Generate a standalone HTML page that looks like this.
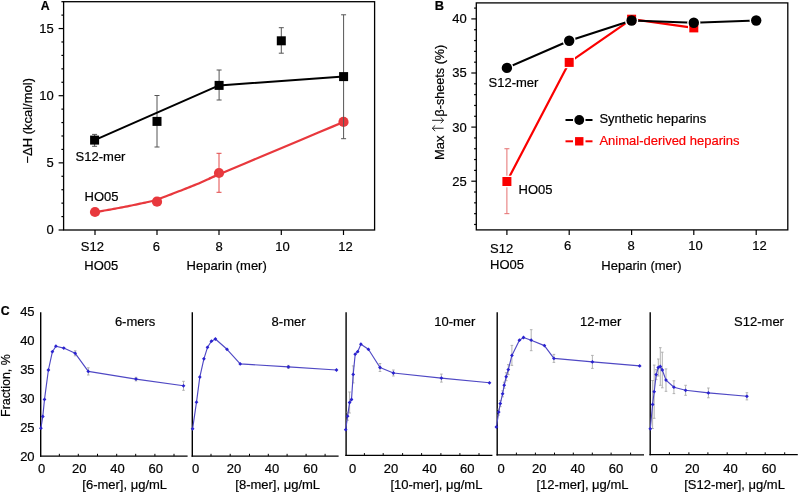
<!DOCTYPE html>
<html><head><meta charset="utf-8"><style>
html,body{margin:0;padding:0;background:#fff;}
body{width:800px;height:493px;overflow:hidden;}
svg{display:block;will-change:transform;font-family:"Liberation Sans",sans-serif;}
</style></head><body>
<svg width="800" height="493" viewBox="0 0 800 493">
<rect width="800" height="493" fill="#fff"/>
<rect x="63.6" y="1.7" width="311.0" height="228.3" fill="none" stroke="#000" stroke-width="1.3"/>
<line x1="58.60" y1="230.00" x2="63.60" y2="230.00" stroke="#000" stroke-width="1.2"/>
<line x1="61.40" y1="216.57" x2="63.60" y2="216.57" stroke="#000" stroke-width="1.2"/>
<line x1="61.40" y1="203.14" x2="63.60" y2="203.14" stroke="#000" stroke-width="1.2"/>
<line x1="61.40" y1="189.71" x2="63.60" y2="189.71" stroke="#000" stroke-width="1.2"/>
<line x1="61.40" y1="176.28" x2="63.60" y2="176.28" stroke="#000" stroke-width="1.2"/>
<line x1="58.60" y1="162.85" x2="63.60" y2="162.85" stroke="#000" stroke-width="1.2"/>
<line x1="61.40" y1="149.42" x2="63.60" y2="149.42" stroke="#000" stroke-width="1.2"/>
<line x1="61.40" y1="135.99" x2="63.60" y2="135.99" stroke="#000" stroke-width="1.2"/>
<line x1="61.40" y1="122.56" x2="63.60" y2="122.56" stroke="#000" stroke-width="1.2"/>
<line x1="61.40" y1="109.13" x2="63.60" y2="109.13" stroke="#000" stroke-width="1.2"/>
<line x1="58.60" y1="95.70" x2="63.60" y2="95.70" stroke="#000" stroke-width="1.2"/>
<line x1="61.40" y1="82.27" x2="63.60" y2="82.27" stroke="#000" stroke-width="1.2"/>
<line x1="61.40" y1="68.84" x2="63.60" y2="68.84" stroke="#000" stroke-width="1.2"/>
<line x1="61.40" y1="55.41" x2="63.60" y2="55.41" stroke="#000" stroke-width="1.2"/>
<line x1="61.40" y1="41.98" x2="63.60" y2="41.98" stroke="#000" stroke-width="1.2"/>
<line x1="58.60" y1="28.55" x2="63.60" y2="28.55" stroke="#000" stroke-width="1.2"/>
<line x1="61.40" y1="15.12" x2="63.60" y2="15.12" stroke="#000" stroke-width="1.2"/>
<line x1="61.40" y1="1.69" x2="63.60" y2="1.69" stroke="#000" stroke-width="1.2"/>
<text x="53.80" y="234.40" font-size="13.0" text-anchor="end" font-weight="normal" fill="#000" stroke="#000" stroke-width="0.2" >0</text>
<text x="53.80" y="167.25" font-size="13.0" text-anchor="end" font-weight="normal" fill="#000" stroke="#000" stroke-width="0.2" >5</text>
<text x="53.80" y="100.10" font-size="13.0" text-anchor="end" font-weight="normal" fill="#000" stroke="#000" stroke-width="0.2" >10</text>
<text x="53.80" y="32.95" font-size="13.0" text-anchor="end" font-weight="normal" fill="#000" stroke="#000" stroke-width="0.2" >15</text>
<line x1="95.00" y1="230.00" x2="95.00" y2="235.00" stroke="#000" stroke-width="1.2"/>
<line x1="157.00" y1="230.00" x2="157.00" y2="235.00" stroke="#000" stroke-width="1.2"/>
<line x1="219.00" y1="230.00" x2="219.00" y2="235.00" stroke="#000" stroke-width="1.2"/>
<line x1="281.30" y1="230.00" x2="281.30" y2="235.00" stroke="#000" stroke-width="1.2"/>
<line x1="343.50" y1="230.00" x2="343.50" y2="235.00" stroke="#000" stroke-width="1.2"/>
<text x="80.80" y="251.20" font-size="13.0" text-anchor="start" font-weight="normal" fill="#000" stroke="#000" stroke-width="0.2" >S12</text>
<text x="84.30" y="270.40" font-size="13.0" text-anchor="start" font-weight="normal" fill="#000" stroke="#000" stroke-width="0.2" >HO05</text>
<text x="156.40" y="251.20" font-size="13.0" text-anchor="middle" font-weight="normal" fill="#000" stroke="#000" stroke-width="0.2" >6</text>
<text x="219.00" y="251.20" font-size="13.0" text-anchor="middle" font-weight="normal" fill="#000" stroke="#000" stroke-width="0.2" >8</text>
<text x="282.50" y="251.20" font-size="13.0" text-anchor="middle" font-weight="normal" fill="#000" stroke="#000" stroke-width="0.2" >10</text>
<text x="345.60" y="251.20" font-size="13.0" text-anchor="middle" font-weight="normal" fill="#000" stroke="#000" stroke-width="0.2" >12</text>
<text x="186.60" y="270.40" font-size="13.0" text-anchor="start" font-weight="normal" fill="#000" stroke="#000" stroke-width="0.2" >Heparin (mer)</text>
<text x="40.80" y="9.60" font-size="12.3" text-anchor="start" font-weight="bold" fill="#000" stroke="#000" stroke-width="0.2" >A</text>
<text x="0.00" y="0.00" font-size="13.0" text-anchor="middle" font-weight="normal" fill="#000" stroke="#000" stroke-width="0.2" transform="translate(32.4,120.8) rotate(-90)">−ΔH (kcal/mol)</text>
<path d="M95.00,212.20 L95.33,212.14 L95.69,212.07 L96.13,211.99 L96.64,211.90 L97.27,211.79 L98.02,211.65 L98.92,211.49 L100.00,211.30 L101.30,211.07 L102.81,210.81 L104.50,210.52 L106.30,210.21 L108.17,209.88 L110.06,209.55 L111.92,209.22 L113.70,208.90 L115.40,208.59 L117.08,208.28 L118.76,207.97 L120.44,207.66 L122.14,207.34 L123.87,207.01 L125.65,206.66 L127.50,206.30 L129.46,205.91 L131.55,205.48 L133.72,205.03 L135.91,204.58 L138.06,204.12 L140.13,203.68 L142.06,203.27 L143.80,202.90 L145.34,202.57 L146.72,202.28 L147.97,202.02 L149.14,201.77 L150.24,201.52 L151.31,201.27 L152.39,201.00 L153.50,200.70 L154.55,200.40 L155.46,200.13 L156.31,199.86 L157.16,199.57 L158.08,199.25 L159.15,198.86 L160.43,198.38 L162.00,197.80 L163.90,197.09 L166.09,196.26 L168.49,195.34 L171.04,194.36 L173.65,193.34 L176.27,192.33 L178.81,191.34 L181.20,190.40 L183.48,189.51 L185.73,188.62 L187.96,187.75 L190.16,186.88 L192.34,186.01 L194.48,185.14 L196.61,184.27 L198.70,183.40 L200.83,182.49 L203.03,181.54 L205.23,180.56 L207.39,179.60 L209.46,178.67 L211.36,177.81 L213.06,177.05 L214.50,176.40 L214.81,176.24 L213.68,176.68 L211.86,177.42 L210.13,178.12 L209.24,178.48 L209.96,178.15 L213.06,176.83 L219.30,174.20 L229.96,169.71 L244.87,163.44 L262.59,155.99 L281.70,147.96 L300.77,139.95 L318.38,132.55 L333.10,126.37 L343.50,122.00" fill="none" stroke="#e8383d" stroke-width="2.2" stroke-linejoin="round" />
<circle cx="95.00" cy="212.00" r="5.1" fill="#e8383d"/>
<circle cx="157.00" cy="201.70" r="5.1" fill="#e8383d"/>
<circle cx="219.00" cy="173.00" r="5.1" fill="#e8383d"/>
<circle cx="343.50" cy="121.90" r="5.1" fill="#e8383d"/>
<line x1="94.60" y1="134.40" x2="94.60" y2="146.30" stroke="#555" stroke-width="1"/>
<line x1="92.10" y1="134.40" x2="97.10" y2="134.40" stroke="#555" stroke-width="1"/>
<line x1="92.10" y1="146.30" x2="97.10" y2="146.30" stroke="#555" stroke-width="1"/>
<line x1="157.00" y1="95.50" x2="157.00" y2="147.00" stroke="#555" stroke-width="1"/>
<line x1="154.50" y1="95.50" x2="159.50" y2="95.50" stroke="#555" stroke-width="1"/>
<line x1="154.50" y1="147.00" x2="159.50" y2="147.00" stroke="#555" stroke-width="1"/>
<line x1="219.10" y1="70.00" x2="219.10" y2="100.00" stroke="#555" stroke-width="1"/>
<line x1="216.60" y1="70.00" x2="221.60" y2="70.00" stroke="#555" stroke-width="1"/>
<line x1="216.60" y1="100.00" x2="221.60" y2="100.00" stroke="#555" stroke-width="1"/>
<line x1="281.30" y1="27.70" x2="281.30" y2="53.20" stroke="#555" stroke-width="1"/>
<line x1="278.80" y1="27.70" x2="283.80" y2="27.70" stroke="#555" stroke-width="1"/>
<line x1="278.80" y1="53.20" x2="283.80" y2="53.20" stroke="#555" stroke-width="1"/>
<line x1="343.60" y1="14.80" x2="343.60" y2="138.70" stroke="#555" stroke-width="1"/>
<line x1="341.10" y1="14.80" x2="346.10" y2="14.80" stroke="#555" stroke-width="1"/>
<line x1="341.10" y1="138.70" x2="346.10" y2="138.70" stroke="#555" stroke-width="1"/>
<line x1="219.00" y1="153.30" x2="219.00" y2="192.30" stroke="#e24848" stroke-width="1"/>
<line x1="216.50" y1="153.30" x2="221.50" y2="153.30" stroke="#e24848" stroke-width="1"/>
<line x1="216.50" y1="192.30" x2="221.50" y2="192.30" stroke="#e24848" stroke-width="1"/>
<path d="M94.60,140.10 L219.10,85.40 L343.60,76.60" fill="none" stroke="#000" stroke-width="2" stroke-linejoin="round" />
<rect x="90.10" y="135.60" width="9" height="9" fill="#000"/>
<rect x="152.50" y="116.90" width="9" height="9" fill="#000"/>
<rect x="214.60" y="80.90" width="9" height="9" fill="#000"/>
<rect x="276.80" y="36.30" width="9" height="9" fill="#000"/>
<rect x="339.10" y="72.10" width="9" height="9" fill="#000"/>
<text x="75.60" y="160.70" font-size="13.0" text-anchor="start" font-weight="normal" fill="#000" stroke="#000" stroke-width="0.2" >S12-mer</text>
<text x="84.60" y="201.40" font-size="13.0" text-anchor="start" font-weight="normal" fill="#000" stroke="#000" stroke-width="0.2" >HO05</text>
<rect x="476.3" y="2.9" width="311.49999999999994" height="227.0" fill="none" stroke="#000" stroke-width="1.3"/>
<line x1="474.10" y1="224.48" x2="476.30" y2="224.48" stroke="#000" stroke-width="1.2"/>
<line x1="474.10" y1="213.66" x2="476.30" y2="213.66" stroke="#000" stroke-width="1.2"/>
<line x1="474.10" y1="202.84" x2="476.30" y2="202.84" stroke="#000" stroke-width="1.2"/>
<line x1="474.10" y1="192.02" x2="476.30" y2="192.02" stroke="#000" stroke-width="1.2"/>
<line x1="471.30" y1="181.20" x2="476.30" y2="181.20" stroke="#000" stroke-width="1.2"/>
<line x1="474.10" y1="170.38" x2="476.30" y2="170.38" stroke="#000" stroke-width="1.2"/>
<line x1="474.10" y1="159.56" x2="476.30" y2="159.56" stroke="#000" stroke-width="1.2"/>
<line x1="474.10" y1="148.74" x2="476.30" y2="148.74" stroke="#000" stroke-width="1.2"/>
<line x1="474.10" y1="137.92" x2="476.30" y2="137.92" stroke="#000" stroke-width="1.2"/>
<line x1="471.30" y1="127.10" x2="476.30" y2="127.10" stroke="#000" stroke-width="1.2"/>
<line x1="474.10" y1="116.28" x2="476.30" y2="116.28" stroke="#000" stroke-width="1.2"/>
<line x1="474.10" y1="105.46" x2="476.30" y2="105.46" stroke="#000" stroke-width="1.2"/>
<line x1="474.10" y1="94.64" x2="476.30" y2="94.64" stroke="#000" stroke-width="1.2"/>
<line x1="474.10" y1="83.82" x2="476.30" y2="83.82" stroke="#000" stroke-width="1.2"/>
<line x1="471.30" y1="73.00" x2="476.30" y2="73.00" stroke="#000" stroke-width="1.2"/>
<line x1="474.10" y1="62.18" x2="476.30" y2="62.18" stroke="#000" stroke-width="1.2"/>
<line x1="474.10" y1="51.36" x2="476.30" y2="51.36" stroke="#000" stroke-width="1.2"/>
<line x1="474.10" y1="40.54" x2="476.30" y2="40.54" stroke="#000" stroke-width="1.2"/>
<line x1="474.10" y1="29.72" x2="476.30" y2="29.72" stroke="#000" stroke-width="1.2"/>
<line x1="471.30" y1="18.90" x2="476.30" y2="18.90" stroke="#000" stroke-width="1.2"/>
<line x1="474.10" y1="8.08" x2="476.30" y2="8.08" stroke="#000" stroke-width="1.2"/>
<text x="466.80" y="185.60" font-size="13.0" text-anchor="end" font-weight="normal" fill="#000" stroke="#000" stroke-width="0.2" >25</text>
<text x="466.80" y="131.50" font-size="13.0" text-anchor="end" font-weight="normal" fill="#000" stroke="#000" stroke-width="0.2" >30</text>
<text x="466.80" y="77.40" font-size="13.0" text-anchor="end" font-weight="normal" fill="#000" stroke="#000" stroke-width="0.2" >35</text>
<text x="466.80" y="23.30" font-size="13.0" text-anchor="end" font-weight="normal" fill="#000" stroke="#000" stroke-width="0.2" >40</text>
<line x1="506.90" y1="229.90" x2="506.90" y2="234.90" stroke="#000" stroke-width="1.2"/>
<line x1="569.20" y1="229.90" x2="569.20" y2="234.90" stroke="#000" stroke-width="1.2"/>
<line x1="631.60" y1="229.90" x2="631.60" y2="234.90" stroke="#000" stroke-width="1.2"/>
<line x1="693.80" y1="229.90" x2="693.80" y2="234.90" stroke="#000" stroke-width="1.2"/>
<line x1="756.20" y1="229.90" x2="756.20" y2="234.90" stroke="#000" stroke-width="1.2"/>
<text x="490.10" y="253.40" font-size="13.0" text-anchor="start" font-weight="normal" fill="#000" stroke="#000" stroke-width="0.2" >S12</text>
<text x="490.10" y="268.70" font-size="13.0" text-anchor="start" font-weight="normal" fill="#000" stroke="#000" stroke-width="0.2" >HO05</text>
<text x="567.60" y="249.80" font-size="13.0" text-anchor="middle" font-weight="normal" fill="#000" stroke="#000" stroke-width="0.2" >6</text>
<text x="631.20" y="249.80" font-size="13.0" text-anchor="middle" font-weight="normal" fill="#000" stroke="#000" stroke-width="0.2" >8</text>
<text x="695.40" y="249.80" font-size="13.0" text-anchor="middle" font-weight="normal" fill="#000" stroke="#000" stroke-width="0.2" >10</text>
<text x="759.60" y="249.80" font-size="13.0" text-anchor="middle" font-weight="normal" fill="#000" stroke="#000" stroke-width="0.2" >12</text>
<text x="601.30" y="270.30" font-size="13.0" text-anchor="start" font-weight="normal" fill="#000" stroke="#000" stroke-width="0.2" >Heparin (mer)</text>
<text x="434.70" y="9.90" font-size="12.8" text-anchor="start" font-weight="bold" fill="#000" stroke="#000" stroke-width="0.2" >B</text>
<text x="0.00" y="0.00" font-size="13.0" text-anchor="start" font-weight="normal" fill="#000" stroke="#000" stroke-width="0.2" transform="translate(443.9,160.0) rotate(-90)">Max</text>
<text x="0.00" y="0.00" font-size="12.65" text-anchor="start" font-weight="normal" fill="#000" stroke="#000" stroke-width="0.2" transform="translate(443.9,116.6) rotate(-90)">β-sheets (%)</text>
<path d="M443.6,128.25 L432.4,128.25 M435.2,125.4 L432.3,128.25 L435.2,131.1" fill="none" stroke="#222" stroke-width="1.0"/>
<path d="M432.1,120.3 L443.6,120.3 M440.7,117.45 L443.6,120.3 L440.7,123.15" fill="none" stroke="#222" stroke-width="1.0"/>
<line x1="506.90" y1="148.74" x2="506.90" y2="213.66" stroke="#e57070" stroke-width="1"/>
<line x1="504.40" y1="148.74" x2="509.40" y2="148.74" stroke="#e57070" stroke-width="1"/>
<line x1="504.40" y1="213.66" x2="509.40" y2="213.66" stroke="#e57070" stroke-width="1"/>
<path d="M506.90,181.50 L569.20,62.40 L631.60,19.20 L693.80,27.90" fill="none" stroke="#fa0000" stroke-width="2.2" stroke-linejoin="round" />
<path d="M506.90,67.90 L569.20,40.70 L631.60,20.50 L693.80,22.75 L756.20,20.50" fill="none" stroke="#000" stroke-width="2.2" stroke-linejoin="round" />
<rect x="501.10" y="175.70" width="11.6" height="11.6" fill="#fff"/>
<rect x="563.40" y="56.60" width="11.6" height="11.6" fill="#fff"/>
<rect x="625.80" y="13.40" width="11.6" height="11.6" fill="#fff"/>
<rect x="688.00" y="22.10" width="11.6" height="11.6" fill="#fff"/>
<circle cx="506.90" cy="67.90" r="6.6" fill="#fff"/>
<circle cx="569.20" cy="40.70" r="6.6" fill="#fff"/>
<circle cx="631.60" cy="20.50" r="6.6" fill="#fff"/>
<circle cx="693.80" cy="22.75" r="6.6" fill="#fff"/>
<circle cx="756.20" cy="20.50" r="6.6" fill="#fff"/>
<rect x="502.40" y="177.00" width="9" height="9" fill="#fa0000"/>
<rect x="564.70" y="57.90" width="9" height="9" fill="#fa0000"/>
<rect x="627.10" y="14.70" width="9" height="9" fill="#fa0000"/>
<rect x="689.30" y="23.40" width="9" height="9" fill="#fa0000"/>
<circle cx="506.90" cy="67.90" r="5.2" fill="#000"/>
<circle cx="569.20" cy="40.70" r="5.2" fill="#000"/>
<circle cx="631.60" cy="20.50" r="5.2" fill="#000"/>
<circle cx="693.80" cy="22.75" r="5.2" fill="#000"/>
<circle cx="756.20" cy="20.50" r="5.2" fill="#000"/>
<text x="488.50" y="86.60" font-size="13.0" text-anchor="start" font-weight="normal" fill="#000" stroke="#000" stroke-width="0.2" >S12-mer</text>
<text x="518.60" y="193.80" font-size="13.0" text-anchor="start" font-weight="normal" fill="#000" stroke="#000" stroke-width="0.2" >HO05</text>
<line x1="565.50" y1="120.00" x2="573.00" y2="120.00" stroke="#000" stroke-width="2"/>
<line x1="585.50" y1="120.00" x2="592.50" y2="120.00" stroke="#000" stroke-width="2"/>
<circle cx="579.25" cy="120.00" r="4.9" fill="#000"/>
<text x="599.40" y="123.00" font-size="13.0" text-anchor="start" font-weight="normal" fill="#000" stroke="#000" stroke-width="0.2" >Synthetic heparins</text>
<line x1="565.50" y1="141.30" x2="573.00" y2="141.30" stroke="#fa0000" stroke-width="2"/>
<line x1="585.50" y1="141.30" x2="592.50" y2="141.30" stroke="#fa0000" stroke-width="2"/>
<rect x="575.05" y="137.10" width="8.4" height="8.4" fill="#fa0000"/>
<text x="599.40" y="145.30" font-size="13.0" text-anchor="start" font-weight="normal" fill="#fa0000" stroke="#fa0000" stroke-width="0.2" >Animal-derived heparins</text>
<text x="0.80" y="314.80" font-size="12.3" text-anchor="start" font-weight="bold" fill="#000" stroke="#000" stroke-width="0.2" >C</text>
<text x="0.00" y="0.00" font-size="12.4" text-anchor="middle" font-weight="normal" fill="#000" stroke="#000" stroke-width="0.2" transform="translate(10.3,385.6) rotate(-90)">Fraction, %</text>
<text x="34.60" y="460.70" font-size="13.0" text-anchor="end" font-weight="normal" fill="#000" stroke="#000" stroke-width="0.2" >20</text>
<text x="34.60" y="431.85" font-size="13.0" text-anchor="end" font-weight="normal" fill="#000" stroke="#000" stroke-width="0.2" >25</text>
<text x="34.60" y="403.00" font-size="13.0" text-anchor="end" font-weight="normal" fill="#000" stroke="#000" stroke-width="0.2" >30</text>
<text x="34.60" y="374.15" font-size="13.0" text-anchor="end" font-weight="normal" fill="#000" stroke="#000" stroke-width="0.2" >35</text>
<text x="34.60" y="345.30" font-size="13.0" text-anchor="end" font-weight="normal" fill="#000" stroke="#000" stroke-width="0.2" >40</text>
<text x="34.60" y="316.45" font-size="13.0" text-anchor="end" font-weight="normal" fill="#000" stroke="#000" stroke-width="0.2" >45</text>
<line x1="40.70" y1="312.20" x2="40.70" y2="456.70" stroke="#000" stroke-width="1.4"/>
<line x1="40.00" y1="456.10" x2="187.60" y2="456.10" stroke="#000" stroke-width="1.4"/>
<line x1="59.35" y1="456.10" x2="59.35" y2="453.80" stroke="#000" stroke-width="1"/>
<line x1="78.30" y1="456.10" x2="78.30" y2="453.80" stroke="#000" stroke-width="1"/>
<line x1="97.50" y1="456.10" x2="97.50" y2="453.80" stroke="#000" stroke-width="1"/>
<line x1="116.70" y1="456.10" x2="116.70" y2="453.80" stroke="#000" stroke-width="1"/>
<line x1="135.70" y1="456.10" x2="135.70" y2="453.80" stroke="#000" stroke-width="1"/>
<line x1="154.90" y1="456.10" x2="154.90" y2="453.80" stroke="#000" stroke-width="1"/>
<line x1="174.00" y1="456.10" x2="174.00" y2="453.80" stroke="#000" stroke-width="1"/>
<text x="41.60" y="472.80" font-size="13.0" text-anchor="middle" font-weight="normal" fill="#000" stroke="#000" stroke-width="0.2" >0</text>
<text x="79.30" y="472.80" font-size="13.0" text-anchor="middle" font-weight="normal" fill="#000" stroke="#000" stroke-width="0.2" >20</text>
<text x="117.50" y="472.80" font-size="13.0" text-anchor="middle" font-weight="normal" fill="#000" stroke="#000" stroke-width="0.2" >40</text>
<text x="155.70" y="472.80" font-size="13.0" text-anchor="middle" font-weight="normal" fill="#000" stroke="#000" stroke-width="0.2" >60</text>
<text x="114.90" y="326.00" font-size="13.0" text-anchor="start" font-weight="normal" fill="#000" stroke="#000" stroke-width="0.2" >6-mers</text>
<text x="82.30" y="488.80" font-size="13.0" text-anchor="start" font-weight="normal" fill="#000" stroke="#000" stroke-width="0.2" >[6-mer], μg/mL</text>
<line x1="75.20" y1="350.80" x2="75.20" y2="355.80" stroke="#aaa" stroke-width="0.9"/>
<line x1="73.90" y1="350.80" x2="76.50" y2="350.80" stroke="#aaa" stroke-width="0.9"/>
<line x1="73.90" y1="355.80" x2="76.50" y2="355.80" stroke="#aaa" stroke-width="0.9"/>
<line x1="88.30" y1="367.80" x2="88.30" y2="375.00" stroke="#aaa" stroke-width="0.9"/>
<line x1="87.00" y1="367.80" x2="89.60" y2="367.80" stroke="#aaa" stroke-width="0.9"/>
<line x1="87.00" y1="375.00" x2="89.60" y2="375.00" stroke="#aaa" stroke-width="0.9"/>
<line x1="136.00" y1="377.30" x2="136.00" y2="380.90" stroke="#aaa" stroke-width="0.9"/>
<line x1="134.70" y1="377.30" x2="137.30" y2="377.30" stroke="#aaa" stroke-width="0.9"/>
<line x1="134.70" y1="380.90" x2="137.30" y2="380.90" stroke="#aaa" stroke-width="0.9"/>
<line x1="183.50" y1="381.30" x2="183.50" y2="390.30" stroke="#aaa" stroke-width="0.9"/>
<line x1="182.20" y1="381.30" x2="184.80" y2="381.30" stroke="#aaa" stroke-width="0.9"/>
<line x1="182.20" y1="390.30" x2="184.80" y2="390.30" stroke="#aaa" stroke-width="0.9"/>
<path d="M40.90,428.20 L42.80,416.50 L44.50,399.40 L48.40,370.00 L52.40,351.70 L55.90,346.20 L63.80,348.10 L75.20,353.30 L88.30,371.40 L136.00,379.10 L183.50,385.80" fill="none" stroke="#4f48c4" stroke-width="1.15" stroke-linejoin="round" />
<path d="M40.90,426.30 L42.80,428.20 L40.90,430.10 L39.00,428.20 Z" fill="#2a22d0"/>
<path d="M42.80,414.60 L44.70,416.50 L42.80,418.40 L40.90,416.50 Z" fill="#2a22d0"/>
<path d="M44.50,397.50 L46.40,399.40 L44.50,401.30 L42.60,399.40 Z" fill="#2a22d0"/>
<path d="M48.40,368.10 L50.30,370.00 L48.40,371.90 L46.50,370.00 Z" fill="#2a22d0"/>
<path d="M52.40,349.80 L54.30,351.70 L52.40,353.60 L50.50,351.70 Z" fill="#2a22d0"/>
<path d="M55.90,344.30 L57.80,346.20 L55.90,348.10 L54.00,346.20 Z" fill="#2a22d0"/>
<path d="M63.80,346.20 L65.70,348.10 L63.80,350.00 L61.90,348.10 Z" fill="#2a22d0"/>
<path d="M75.20,351.40 L77.10,353.30 L75.20,355.20 L73.30,353.30 Z" fill="#2a22d0"/>
<path d="M88.30,369.50 L90.20,371.40 L88.30,373.30 L86.40,371.40 Z" fill="#2a22d0"/>
<path d="M136.00,377.20 L137.90,379.10 L136.00,381.00 L134.10,379.10 Z" fill="#2a22d0"/>
<path d="M183.50,383.90 L185.40,385.80 L183.50,387.70 L181.60,385.80 Z" fill="#2a22d0"/>
<line x1="192.30" y1="312.20" x2="192.30" y2="456.70" stroke="#000" stroke-width="1.4"/>
<line x1="191.60" y1="456.10" x2="338.60" y2="456.10" stroke="#000" stroke-width="1.4"/>
<line x1="211.00" y1="456.10" x2="211.00" y2="453.80" stroke="#000" stroke-width="1"/>
<line x1="230.20" y1="456.10" x2="230.20" y2="453.80" stroke="#000" stroke-width="1"/>
<line x1="249.50" y1="456.10" x2="249.50" y2="453.80" stroke="#000" stroke-width="1"/>
<line x1="268.30" y1="456.10" x2="268.30" y2="453.80" stroke="#000" stroke-width="1"/>
<line x1="287.10" y1="456.10" x2="287.10" y2="453.80" stroke="#000" stroke-width="1"/>
<line x1="306.10" y1="456.10" x2="306.10" y2="453.80" stroke="#000" stroke-width="1"/>
<line x1="325.10" y1="456.10" x2="325.10" y2="453.80" stroke="#000" stroke-width="1"/>
<text x="195.50" y="472.80" font-size="13.0" text-anchor="middle" font-weight="normal" fill="#000" stroke="#000" stroke-width="0.2" >0</text>
<text x="233.90" y="472.80" font-size="13.0" text-anchor="middle" font-weight="normal" fill="#000" stroke="#000" stroke-width="0.2" >20</text>
<text x="272.10" y="472.80" font-size="13.0" text-anchor="middle" font-weight="normal" fill="#000" stroke="#000" stroke-width="0.2" >40</text>
<text x="310.60" y="472.80" font-size="13.0" text-anchor="middle" font-weight="normal" fill="#000" stroke="#000" stroke-width="0.2" >60</text>
<text x="271.60" y="326.00" font-size="13.0" text-anchor="start" font-weight="normal" fill="#000" stroke="#000" stroke-width="0.2" >8-mer</text>
<text x="235.30" y="488.80" font-size="13.0" text-anchor="start" font-weight="normal" fill="#000" stroke="#000" stroke-width="0.2" >[8-mer], μg/mL</text>
<line x1="288.40" y1="365.40" x2="288.40" y2="368.40" stroke="#aaa" stroke-width="0.9"/>
<line x1="287.10" y1="365.40" x2="289.70" y2="365.40" stroke="#aaa" stroke-width="0.9"/>
<line x1="287.10" y1="368.40" x2="289.70" y2="368.40" stroke="#aaa" stroke-width="0.9"/>
<path d="M192.60,428.80 L196.50,402.20 L199.80,377.10 L203.90,358.80 L207.50,347.30 L211.40,341.20 L215.40,339.00 L227.00,349.30 L240.20,363.90 L288.40,366.90 L336.50,370.00" fill="none" stroke="#4f48c4" stroke-width="1.15" stroke-linejoin="round" />
<path d="M192.60,426.90 L194.50,428.80 L192.60,430.70 L190.70,428.80 Z" fill="#2a22d0"/>
<path d="M196.50,400.30 L198.40,402.20 L196.50,404.10 L194.60,402.20 Z" fill="#2a22d0"/>
<path d="M199.80,375.20 L201.70,377.10 L199.80,379.00 L197.90,377.10 Z" fill="#2a22d0"/>
<path d="M203.90,356.90 L205.80,358.80 L203.90,360.70 L202.00,358.80 Z" fill="#2a22d0"/>
<path d="M207.50,345.40 L209.40,347.30 L207.50,349.20 L205.60,347.30 Z" fill="#2a22d0"/>
<path d="M211.40,339.30 L213.30,341.20 L211.40,343.10 L209.50,341.20 Z" fill="#2a22d0"/>
<path d="M215.40,337.10 L217.30,339.00 L215.40,340.90 L213.50,339.00 Z" fill="#2a22d0"/>
<path d="M227.00,347.40 L228.90,349.30 L227.00,351.20 L225.10,349.30 Z" fill="#2a22d0"/>
<path d="M240.20,362.00 L242.10,363.90 L240.20,365.80 L238.30,363.90 Z" fill="#2a22d0"/>
<path d="M288.40,365.00 L290.30,366.90 L288.40,368.80 L286.50,366.90 Z" fill="#2a22d0"/>
<path d="M336.50,368.10 L338.40,370.00 L336.50,371.90 L334.60,370.00 Z" fill="#2a22d0"/>
<line x1="346.10" y1="312.20" x2="346.10" y2="456.00" stroke="#000" stroke-width="1.4"/>
<line x1="345.40" y1="455.40" x2="492.40" y2="455.40" stroke="#000" stroke-width="1.4"/>
<line x1="364.40" y1="455.40" x2="364.40" y2="453.10" stroke="#000" stroke-width="1"/>
<line x1="383.20" y1="455.40" x2="383.20" y2="453.10" stroke="#000" stroke-width="1"/>
<line x1="402.60" y1="455.40" x2="402.60" y2="453.10" stroke="#000" stroke-width="1"/>
<line x1="421.60" y1="455.40" x2="421.60" y2="453.10" stroke="#000" stroke-width="1"/>
<line x1="440.90" y1="455.40" x2="440.90" y2="453.10" stroke="#000" stroke-width="1"/>
<line x1="459.90" y1="455.40" x2="459.90" y2="453.10" stroke="#000" stroke-width="1"/>
<line x1="479.00" y1="455.40" x2="479.00" y2="453.10" stroke="#000" stroke-width="1"/>
<text x="352.60" y="472.80" font-size="13.0" text-anchor="middle" font-weight="normal" fill="#000" stroke="#000" stroke-width="0.2" >0</text>
<text x="390.90" y="472.80" font-size="13.0" text-anchor="middle" font-weight="normal" fill="#000" stroke="#000" stroke-width="0.2" >20</text>
<text x="429.40" y="472.80" font-size="13.0" text-anchor="middle" font-weight="normal" fill="#000" stroke="#000" stroke-width="0.2" >40</text>
<text x="467.20" y="472.80" font-size="13.0" text-anchor="middle" font-weight="normal" fill="#000" stroke="#000" stroke-width="0.2" >60</text>
<text x="434.20" y="326.00" font-size="13.0" text-anchor="start" font-weight="normal" fill="#000" stroke="#000" stroke-width="0.2" >10-mer</text>
<text x="390.40" y="488.80" font-size="13.0" text-anchor="start" font-weight="normal" fill="#000" stroke="#000" stroke-width="0.2" >[10-mer], μg/mL</text>
<line x1="347.60" y1="412.20" x2="347.60" y2="420.20" stroke="#aaa" stroke-width="0.9"/>
<line x1="346.30" y1="412.20" x2="348.90" y2="412.20" stroke="#aaa" stroke-width="0.9"/>
<line x1="346.30" y1="420.20" x2="348.90" y2="420.20" stroke="#aaa" stroke-width="0.9"/>
<line x1="349.60" y1="392.00" x2="349.60" y2="413.00" stroke="#aaa" stroke-width="0.9"/>
<line x1="348.30" y1="392.00" x2="350.90" y2="392.00" stroke="#aaa" stroke-width="0.9"/>
<line x1="348.30" y1="413.00" x2="350.90" y2="413.00" stroke="#aaa" stroke-width="0.9"/>
<line x1="353.20" y1="365.90" x2="353.20" y2="382.90" stroke="#aaa" stroke-width="0.9"/>
<line x1="351.90" y1="365.90" x2="354.50" y2="365.90" stroke="#aaa" stroke-width="0.9"/>
<line x1="351.90" y1="382.90" x2="354.50" y2="382.90" stroke="#aaa" stroke-width="0.9"/>
<line x1="380.00" y1="363.50" x2="380.00" y2="371.50" stroke="#aaa" stroke-width="0.9"/>
<line x1="378.70" y1="363.50" x2="381.30" y2="363.50" stroke="#aaa" stroke-width="0.9"/>
<line x1="378.70" y1="371.50" x2="381.30" y2="371.50" stroke="#aaa" stroke-width="0.9"/>
<line x1="393.40" y1="370.00" x2="393.40" y2="376.00" stroke="#aaa" stroke-width="0.9"/>
<line x1="392.10" y1="370.00" x2="394.70" y2="370.00" stroke="#aaa" stroke-width="0.9"/>
<line x1="392.10" y1="376.00" x2="394.70" y2="376.00" stroke="#aaa" stroke-width="0.9"/>
<line x1="441.40" y1="374.10" x2="441.40" y2="382.10" stroke="#aaa" stroke-width="0.9"/>
<line x1="440.10" y1="374.10" x2="442.70" y2="374.10" stroke="#aaa" stroke-width="0.9"/>
<line x1="440.10" y1="382.10" x2="442.70" y2="382.10" stroke="#aaa" stroke-width="0.9"/>
<path d="M345.70,429.70 L347.60,416.20 L349.60,402.50 L351.50,399.50 L353.20,374.40 L355.20,354.20 L357.70,351.70 L360.90,344.20 L368.40,349.30 L380.00,367.50 L393.40,373.00 L441.40,378.10 L489.50,382.80" fill="none" stroke="#4f48c4" stroke-width="1.15" stroke-linejoin="round" />
<path d="M345.70,427.80 L347.60,429.70 L345.70,431.60 L343.80,429.70 Z" fill="#2a22d0"/>
<path d="M347.60,414.30 L349.50,416.20 L347.60,418.10 L345.70,416.20 Z" fill="#2a22d0"/>
<path d="M349.60,400.60 L351.50,402.50 L349.60,404.40 L347.70,402.50 Z" fill="#2a22d0"/>
<path d="M351.50,397.60 L353.40,399.50 L351.50,401.40 L349.60,399.50 Z" fill="#2a22d0"/>
<path d="M353.20,372.50 L355.10,374.40 L353.20,376.30 L351.30,374.40 Z" fill="#2a22d0"/>
<path d="M355.20,352.30 L357.10,354.20 L355.20,356.10 L353.30,354.20 Z" fill="#2a22d0"/>
<path d="M357.70,349.80 L359.60,351.70 L357.70,353.60 L355.80,351.70 Z" fill="#2a22d0"/>
<path d="M360.90,342.30 L362.80,344.20 L360.90,346.10 L359.00,344.20 Z" fill="#2a22d0"/>
<path d="M368.40,347.40 L370.30,349.30 L368.40,351.20 L366.50,349.30 Z" fill="#2a22d0"/>
<path d="M380.00,365.60 L381.90,367.50 L380.00,369.40 L378.10,367.50 Z" fill="#2a22d0"/>
<path d="M393.40,371.10 L395.30,373.00 L393.40,374.90 L391.50,373.00 Z" fill="#2a22d0"/>
<path d="M441.40,376.20 L443.30,378.10 L441.40,380.00 L439.50,378.10 Z" fill="#2a22d0"/>
<path d="M489.50,380.90 L491.40,382.80 L489.50,384.70 L487.60,382.80 Z" fill="#2a22d0"/>
<line x1="497.20" y1="312.20" x2="497.20" y2="455.50" stroke="#000" stroke-width="1.4"/>
<line x1="496.50" y1="454.90" x2="644.00" y2="454.90" stroke="#000" stroke-width="1.4"/>
<line x1="516.40" y1="454.90" x2="516.40" y2="452.60" stroke="#000" stroke-width="1"/>
<line x1="535.40" y1="454.90" x2="535.40" y2="452.60" stroke="#000" stroke-width="1"/>
<line x1="554.50" y1="454.90" x2="554.50" y2="452.60" stroke="#000" stroke-width="1"/>
<line x1="573.30" y1="454.90" x2="573.30" y2="452.60" stroke="#000" stroke-width="1"/>
<line x1="592.30" y1="454.90" x2="592.30" y2="452.60" stroke="#000" stroke-width="1"/>
<line x1="611.10" y1="454.90" x2="611.10" y2="452.60" stroke="#000" stroke-width="1"/>
<line x1="630.60" y1="454.90" x2="630.60" y2="452.60" stroke="#000" stroke-width="1"/>
<text x="501.00" y="472.80" font-size="13.0" text-anchor="middle" font-weight="normal" fill="#000" stroke="#000" stroke-width="0.2" >0</text>
<text x="539.30" y="472.80" font-size="13.0" text-anchor="middle" font-weight="normal" fill="#000" stroke="#000" stroke-width="0.2" >20</text>
<text x="577.80" y="472.80" font-size="13.0" text-anchor="middle" font-weight="normal" fill="#000" stroke="#000" stroke-width="0.2" >40</text>
<text x="616.10" y="472.80" font-size="13.0" text-anchor="middle" font-weight="normal" fill="#000" stroke="#000" stroke-width="0.2" >60</text>
<text x="580.10" y="326.00" font-size="13.0" text-anchor="start" font-weight="normal" fill="#000" stroke="#000" stroke-width="0.2" >12-mer</text>
<text x="536.50" y="488.80" font-size="13.0" text-anchor="start" font-weight="normal" fill="#000" stroke="#000" stroke-width="0.2" >[12-mer], μg/mL</text>
<line x1="498.70" y1="409.10" x2="498.70" y2="415.10" stroke="#aaa" stroke-width="0.9"/>
<line x1="497.40" y1="409.10" x2="500.00" y2="409.10" stroke="#aaa" stroke-width="0.9"/>
<line x1="497.40" y1="415.10" x2="500.00" y2="415.10" stroke="#aaa" stroke-width="0.9"/>
<line x1="500.30" y1="400.60" x2="500.30" y2="406.60" stroke="#aaa" stroke-width="0.9"/>
<line x1="499.00" y1="400.60" x2="501.60" y2="400.60" stroke="#aaa" stroke-width="0.9"/>
<line x1="499.00" y1="406.60" x2="501.60" y2="406.60" stroke="#aaa" stroke-width="0.9"/>
<line x1="502.60" y1="390.80" x2="502.60" y2="396.80" stroke="#aaa" stroke-width="0.9"/>
<line x1="501.30" y1="390.80" x2="503.90" y2="390.80" stroke="#aaa" stroke-width="0.9"/>
<line x1="501.30" y1="396.80" x2="503.90" y2="396.80" stroke="#aaa" stroke-width="0.9"/>
<line x1="504.20" y1="382.20" x2="504.20" y2="388.20" stroke="#aaa" stroke-width="0.9"/>
<line x1="502.90" y1="382.20" x2="505.50" y2="382.20" stroke="#aaa" stroke-width="0.9"/>
<line x1="502.90" y1="388.20" x2="505.50" y2="388.20" stroke="#aaa" stroke-width="0.9"/>
<line x1="506.20" y1="372.70" x2="506.20" y2="380.70" stroke="#aaa" stroke-width="0.9"/>
<line x1="504.90" y1="372.70" x2="507.50" y2="372.70" stroke="#aaa" stroke-width="0.9"/>
<line x1="504.90" y1="380.70" x2="507.50" y2="380.70" stroke="#aaa" stroke-width="0.9"/>
<line x1="508.30" y1="364.60" x2="508.30" y2="374.60" stroke="#aaa" stroke-width="0.9"/>
<line x1="507.00" y1="364.60" x2="509.60" y2="364.60" stroke="#aaa" stroke-width="0.9"/>
<line x1="507.00" y1="374.60" x2="509.60" y2="374.60" stroke="#aaa" stroke-width="0.9"/>
<line x1="511.90" y1="345.40" x2="511.90" y2="365.40" stroke="#aaa" stroke-width="0.9"/>
<line x1="510.60" y1="345.40" x2="513.20" y2="345.40" stroke="#aaa" stroke-width="0.9"/>
<line x1="510.60" y1="365.40" x2="513.20" y2="365.40" stroke="#aaa" stroke-width="0.9"/>
<line x1="531.20" y1="329.70" x2="531.20" y2="350.70" stroke="#aaa" stroke-width="0.9"/>
<line x1="529.90" y1="329.70" x2="532.50" y2="329.70" stroke="#aaa" stroke-width="0.9"/>
<line x1="529.90" y1="350.70" x2="532.50" y2="350.70" stroke="#aaa" stroke-width="0.9"/>
<line x1="553.90" y1="354.40" x2="553.90" y2="362.40" stroke="#aaa" stroke-width="0.9"/>
<line x1="552.60" y1="354.40" x2="555.20" y2="354.40" stroke="#aaa" stroke-width="0.9"/>
<line x1="552.60" y1="362.40" x2="555.20" y2="362.40" stroke="#aaa" stroke-width="0.9"/>
<line x1="592.40" y1="355.40" x2="592.40" y2="368.40" stroke="#aaa" stroke-width="0.9"/>
<line x1="591.10" y1="355.40" x2="593.70" y2="355.40" stroke="#aaa" stroke-width="0.9"/>
<line x1="591.10" y1="368.40" x2="593.70" y2="368.40" stroke="#aaa" stroke-width="0.9"/>
<path d="M496.40,427.00 L498.70,412.10 L500.30,403.60 L502.60,393.80 L504.20,385.20 L506.20,376.70 L508.30,369.60 L511.90,355.40 L519.40,340.20 L523.50,337.50 L531.20,340.20 L544.40,345.60 L553.90,358.40 L592.40,361.90 L639.70,365.90" fill="none" stroke="#4f48c4" stroke-width="1.15" stroke-linejoin="round" />
<path d="M496.40,425.10 L498.30,427.00 L496.40,428.90 L494.50,427.00 Z" fill="#2a22d0"/>
<path d="M498.70,410.20 L500.60,412.10 L498.70,414.00 L496.80,412.10 Z" fill="#2a22d0"/>
<path d="M500.30,401.70 L502.20,403.60 L500.30,405.50 L498.40,403.60 Z" fill="#2a22d0"/>
<path d="M502.60,391.90 L504.50,393.80 L502.60,395.70 L500.70,393.80 Z" fill="#2a22d0"/>
<path d="M504.20,383.30 L506.10,385.20 L504.20,387.10 L502.30,385.20 Z" fill="#2a22d0"/>
<path d="M506.20,374.80 L508.10,376.70 L506.20,378.60 L504.30,376.70 Z" fill="#2a22d0"/>
<path d="M508.30,367.70 L510.20,369.60 L508.30,371.50 L506.40,369.60 Z" fill="#2a22d0"/>
<path d="M511.90,353.50 L513.80,355.40 L511.90,357.30 L510.00,355.40 Z" fill="#2a22d0"/>
<path d="M519.40,338.30 L521.30,340.20 L519.40,342.10 L517.50,340.20 Z" fill="#2a22d0"/>
<path d="M523.50,335.60 L525.40,337.50 L523.50,339.40 L521.60,337.50 Z" fill="#2a22d0"/>
<path d="M531.20,338.30 L533.10,340.20 L531.20,342.10 L529.30,340.20 Z" fill="#2a22d0"/>
<path d="M544.40,343.70 L546.30,345.60 L544.40,347.50 L542.50,345.60 Z" fill="#2a22d0"/>
<path d="M553.90,356.50 L555.80,358.40 L553.90,360.30 L552.00,358.40 Z" fill="#2a22d0"/>
<path d="M592.40,360.00 L594.30,361.90 L592.40,363.80 L590.50,361.90 Z" fill="#2a22d0"/>
<path d="M639.70,364.00 L641.60,365.90 L639.70,367.80 L637.80,365.90 Z" fill="#2a22d0"/>
<line x1="650.20" y1="312.20" x2="650.20" y2="455.20" stroke="#000" stroke-width="1.4"/>
<line x1="649.50" y1="454.60" x2="797.80" y2="454.60" stroke="#000" stroke-width="1.4"/>
<line x1="669.40" y1="454.60" x2="669.40" y2="452.30" stroke="#000" stroke-width="1"/>
<line x1="688.90" y1="454.60" x2="688.90" y2="452.30" stroke="#000" stroke-width="1"/>
<line x1="707.90" y1="454.60" x2="707.90" y2="452.30" stroke="#000" stroke-width="1"/>
<line x1="727.20" y1="454.60" x2="727.20" y2="452.30" stroke="#000" stroke-width="1"/>
<line x1="746.20" y1="454.60" x2="746.20" y2="452.30" stroke="#000" stroke-width="1"/>
<line x1="765.20" y1="454.60" x2="765.20" y2="452.30" stroke="#000" stroke-width="1"/>
<line x1="784.70" y1="454.60" x2="784.70" y2="452.30" stroke="#000" stroke-width="1"/>
<text x="654.20" y="472.80" font-size="13.0" text-anchor="middle" font-weight="normal" fill="#000" stroke="#000" stroke-width="0.2" >0</text>
<text x="692.30" y="472.80" font-size="13.0" text-anchor="middle" font-weight="normal" fill="#000" stroke="#000" stroke-width="0.2" >20</text>
<text x="730.50" y="472.80" font-size="13.0" text-anchor="middle" font-weight="normal" fill="#000" stroke="#000" stroke-width="0.2" >40</text>
<text x="769.10" y="472.80" font-size="13.0" text-anchor="middle" font-weight="normal" fill="#000" stroke="#000" stroke-width="0.2" >60</text>
<text x="734.10" y="326.00" font-size="13.0" text-anchor="start" font-weight="normal" fill="#000" stroke="#000" stroke-width="0.2" >S12-mer</text>
<text x="684.20" y="488.80" font-size="13.0" text-anchor="start" font-weight="normal" fill="#000" stroke="#000" stroke-width="0.2" >[S12-mer], μg/mL</text>
<line x1="652.60" y1="380.50" x2="652.60" y2="428.50" stroke="#aaa" stroke-width="0.9"/>
<line x1="651.30" y1="380.50" x2="653.90" y2="380.50" stroke="#aaa" stroke-width="0.9"/>
<line x1="651.30" y1="428.50" x2="653.90" y2="428.50" stroke="#aaa" stroke-width="0.9"/>
<line x1="654.20" y1="365.10" x2="654.20" y2="418.30" stroke="#aaa" stroke-width="0.9"/>
<line x1="652.90" y1="365.10" x2="655.50" y2="365.10" stroke="#aaa" stroke-width="0.9"/>
<line x1="652.90" y1="418.30" x2="655.50" y2="418.30" stroke="#aaa" stroke-width="0.9"/>
<line x1="656.20" y1="369.60" x2="656.20" y2="379.60" stroke="#aaa" stroke-width="0.9"/>
<line x1="654.90" y1="369.60" x2="657.50" y2="369.60" stroke="#aaa" stroke-width="0.9"/>
<line x1="654.90" y1="379.60" x2="657.50" y2="379.60" stroke="#aaa" stroke-width="0.9"/>
<line x1="658.30" y1="359.00" x2="658.30" y2="376.00" stroke="#aaa" stroke-width="0.9"/>
<line x1="657.00" y1="359.00" x2="659.60" y2="359.00" stroke="#aaa" stroke-width="0.9"/>
<line x1="657.00" y1="376.00" x2="659.60" y2="376.00" stroke="#aaa" stroke-width="0.9"/>
<line x1="660.30" y1="347.70" x2="660.30" y2="385.30" stroke="#aaa" stroke-width="0.9"/>
<line x1="659.00" y1="347.70" x2="661.60" y2="347.70" stroke="#aaa" stroke-width="0.9"/>
<line x1="659.00" y1="385.30" x2="661.60" y2="385.30" stroke="#aaa" stroke-width="0.9"/>
<line x1="662.30" y1="352.20" x2="662.30" y2="387.80" stroke="#aaa" stroke-width="0.9"/>
<line x1="661.00" y1="352.20" x2="663.60" y2="352.20" stroke="#aaa" stroke-width="0.9"/>
<line x1="661.00" y1="387.80" x2="663.60" y2="387.80" stroke="#aaa" stroke-width="0.9"/>
<line x1="666.00" y1="368.90" x2="666.00" y2="391.30" stroke="#aaa" stroke-width="0.9"/>
<line x1="664.70" y1="368.90" x2="667.30" y2="368.90" stroke="#aaa" stroke-width="0.9"/>
<line x1="664.70" y1="391.30" x2="667.30" y2="391.30" stroke="#aaa" stroke-width="0.9"/>
<line x1="673.90" y1="380.80" x2="673.90" y2="393.60" stroke="#aaa" stroke-width="0.9"/>
<line x1="672.60" y1="380.80" x2="675.20" y2="380.80" stroke="#aaa" stroke-width="0.9"/>
<line x1="672.60" y1="393.60" x2="675.20" y2="393.60" stroke="#aaa" stroke-width="0.9"/>
<line x1="685.60" y1="385.30" x2="685.60" y2="395.30" stroke="#aaa" stroke-width="0.9"/>
<line x1="684.30" y1="385.30" x2="686.90" y2="385.30" stroke="#aaa" stroke-width="0.9"/>
<line x1="684.30" y1="395.30" x2="686.90" y2="395.30" stroke="#aaa" stroke-width="0.9"/>
<line x1="708.40" y1="388.00" x2="708.40" y2="397.80" stroke="#aaa" stroke-width="0.9"/>
<line x1="707.10" y1="388.00" x2="709.70" y2="388.00" stroke="#aaa" stroke-width="0.9"/>
<line x1="707.10" y1="397.80" x2="709.70" y2="397.80" stroke="#aaa" stroke-width="0.9"/>
<line x1="746.90" y1="392.70" x2="746.90" y2="399.90" stroke="#aaa" stroke-width="0.9"/>
<line x1="745.60" y1="392.70" x2="748.20" y2="392.70" stroke="#aaa" stroke-width="0.9"/>
<line x1="745.60" y1="399.90" x2="748.20" y2="399.90" stroke="#aaa" stroke-width="0.9"/>
<path d="M650.30,428.80 L652.60,404.50 L654.20,391.70 L656.20,374.60 L658.30,367.50 L660.30,366.50 L662.30,370.00 L666.00,380.10 L673.90,387.20 L685.60,390.30 L708.40,392.90 L746.90,396.30" fill="none" stroke="#4f48c4" stroke-width="1.15" stroke-linejoin="round" />
<path d="M650.30,426.90 L652.20,428.80 L650.30,430.70 L648.40,428.80 Z" fill="#2a22d0"/>
<path d="M652.60,402.60 L654.50,404.50 L652.60,406.40 L650.70,404.50 Z" fill="#2a22d0"/>
<path d="M654.20,389.80 L656.10,391.70 L654.20,393.60 L652.30,391.70 Z" fill="#2a22d0"/>
<path d="M656.20,372.70 L658.10,374.60 L656.20,376.50 L654.30,374.60 Z" fill="#2a22d0"/>
<path d="M658.30,365.60 L660.20,367.50 L658.30,369.40 L656.40,367.50 Z" fill="#2a22d0"/>
<path d="M660.30,364.60 L662.20,366.50 L660.30,368.40 L658.40,366.50 Z" fill="#2a22d0"/>
<path d="M662.30,368.10 L664.20,370.00 L662.30,371.90 L660.40,370.00 Z" fill="#2a22d0"/>
<path d="M666.00,378.20 L667.90,380.10 L666.00,382.00 L664.10,380.10 Z" fill="#2a22d0"/>
<path d="M673.90,385.30 L675.80,387.20 L673.90,389.10 L672.00,387.20 Z" fill="#2a22d0"/>
<path d="M685.60,388.40 L687.50,390.30 L685.60,392.20 L683.70,390.30 Z" fill="#2a22d0"/>
<path d="M708.40,391.00 L710.30,392.90 L708.40,394.80 L706.50,392.90 Z" fill="#2a22d0"/>
<path d="M746.90,394.40 L748.80,396.30 L746.90,398.20 L745.00,396.30 Z" fill="#2a22d0"/>
</svg>
</body></html>
